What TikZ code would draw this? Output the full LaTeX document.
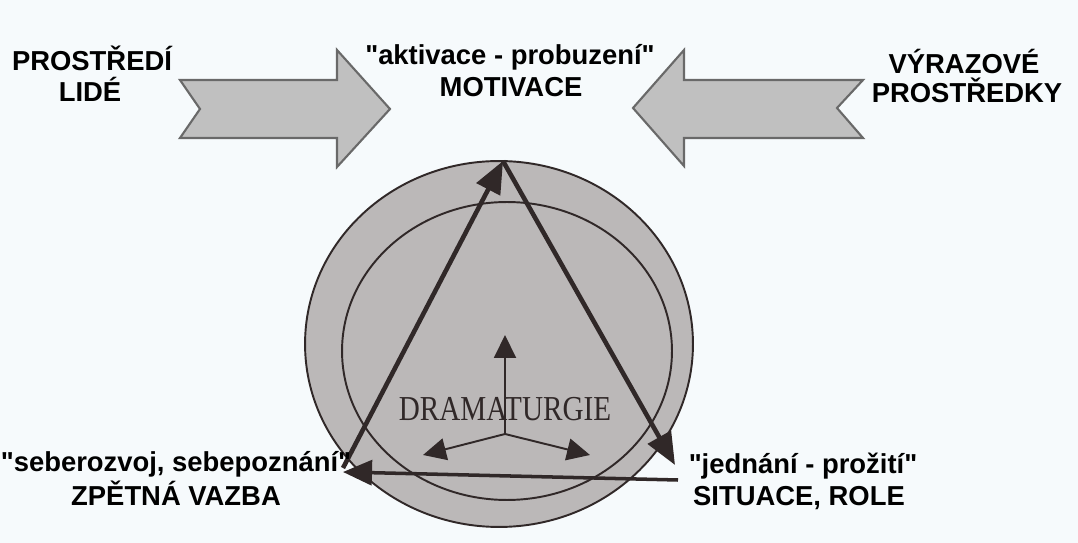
\documentclass[tikz,border=0pt]{standalone}
\usepackage{fontspec}
\setmainfont{Liberation Sans}
\newfontfamily\lblfont{Liberation Sans}
\newfontfamily\drfont{Liberation Serif}
\usetikzlibrary{arrows.meta}
\definecolor{bgc}{RGB}{246,250,252}
\definecolor{circfill}{RGB}{187,184,184}
\definecolor{dark}{RGB}{48,40,40}
\definecolor{arrowfill}{RGB}{192,192,192}
\definecolor{arrowdraw}{RGB}{105,105,105}
\begin{document}
\begin{tikzpicture}[x=0.02cm,y=-0.02cm,
  lbl/.style={anchor=base,inner sep=0pt,font=\lblfont\fontsize{15.6}{18}\selectfont\bfseries},
  bigarrow/.style={fill=arrowfill,draw=arrowdraw,line width=1.2pt,line join=miter},
  circ/.style={fill=circfill,draw=dark,line width=1.1pt},
  circline/.style={draw=dark,line width=1.1pt},
  tri/.style={draw=dark,line width=2.6pt,-{Triangle[length=0.64cm,width=0.52cm]}},
  trih/.style={draw=dark,line width=2.0pt,-{Triangle[length=0.58cm,width=0.5cm]}},
  inner/.style={draw=dark,line width=1.1pt,-{Triangle[length=0.46cm,width=0.44cm]}}]
\fill[bgc] (0,0) rectangle (1078,543);
\useasboundingbox (0,0) rectangle (1078,543);

% big grey arrows
\path[bigarrow] (180,80) -- (337,80) -- (337,50) -- (390,109) -- (337,167) -- (337,138) -- (180,138) -- (200,109) -- cycle;
\path[bigarrow] (633,108) -- (684,50) -- (684,80) -- (863,80) -- (837,108) -- (863,138) -- (684,138) -- (684,166) -- cycle;

% circles
\path[circ] (499,344) ellipse [x radius=3.88cm, y radius=3.66cm];
\path[circline] (507,351) ellipse [x radius=3.3cm, y radius=2.98cm];

% DRAMATURGIE
\node[anchor=base,inner sep=0pt,text=dark,font=\drfont\fontsize{16.6}{18}\selectfont] (drama) at (505,421) {\scalebox{1}[1.2]{DRAMATURGIE}};

% triangle corners
\coordinate (apex) at (503,161);
\coordinate (bl) at (343,468);
\coordinate (br) at (675,465);
\coordinate (hr) at (678,480);
\coordinate (hl) at (343,472);

\draw[tri] (bl) -- (apex);
\draw[tri] (apex) -- (br);
\draw[trih] (hr) -- (hl);

% inner arrows
\coordinate (vj) at (505,434);
\coordinate (vt) at (505,335);
\coordinate (lt) at (423,455);
\coordinate (rt) at (590,455);
\draw[inner] (vj) -- (vt);
\draw[inner] (vj) -- (lt);
\draw[inner] (vj) -- (rt);

% labels
\node[lbl] (tl1) at (92,71) {PROSTŘEDÍ};
\node[lbl] (tl2) at (90,102) {LIDÉ};
\node[lbl] (tc1) at (510,65) {"aktivace - probuzení"};
\node[lbl] (tc2) at (511,97) {MOTIVACE};
\node[lbl] (tr1) at (964,74) {VÝRAZOVÉ};
\node[lbl] (tr2) at (967,103) {PROSTŘEDKY};
\node[lbl] (bl1) at (176,472) {"seberozvoj, sebepoznání"};
\node[lbl] (bl2) at (176,505) {ZPĚTNÁ VAZBA};
\node[lbl] (br1) at (803,474) {"jednání - prožití"};
\node[lbl] (br2) at (799,505) {SITUACE, ROLE};
\end{tikzpicture}
\end{document}
